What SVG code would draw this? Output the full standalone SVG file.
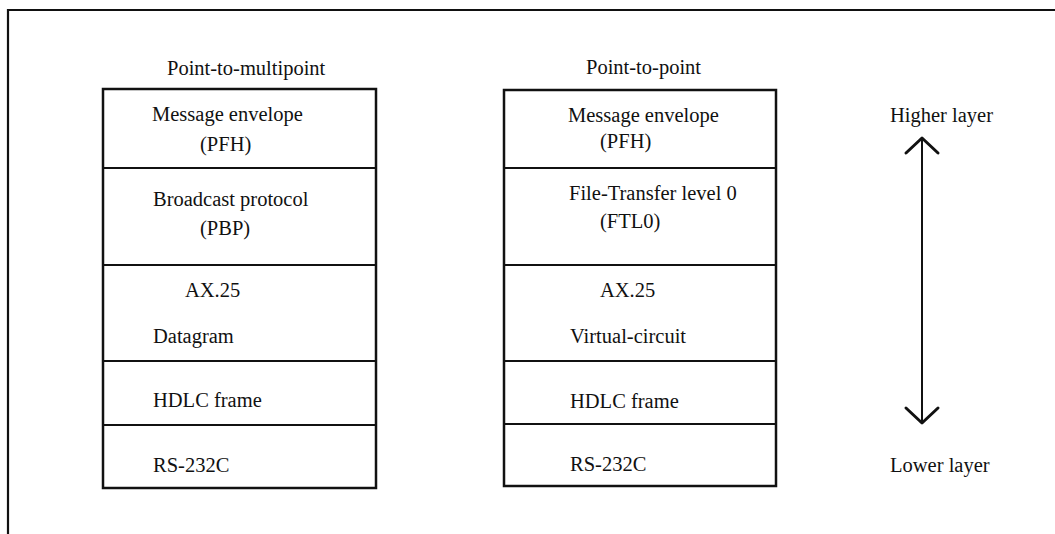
<svg xmlns="http://www.w3.org/2000/svg" width="1055" height="534" viewBox="0 0 1055 534">
<style>
text{font-family:"Liberation Serif","Times New Roman",serif;font-size:20.5px;fill:#111}
.box{fill:#fff;stroke:#111;stroke-width:2.5}
.div{stroke:#111;stroke-width:2.2}
.frame{stroke:#111;stroke-width:2.2;fill:none}
.arr{stroke:#111;stroke-width:2;fill:none}
.head{stroke:#111;stroke-width:3;fill:none;stroke-linecap:round;stroke-linejoin:round}
</style>
<rect width="1055" height="534" fill="#fff"/>
<g id="frame">
<path class="frame" d="M8 534 V10 H1055"/>
</g>
<g id="stack-multipoint">
<text x="167" y="75">Point-to-multipoint</text>
<rect class="box" x="103" y="89" width="273" height="399"/>
<line class="div" x1="103" y1="168" x2="376" y2="168"/>
<line class="div" x1="103" y1="265" x2="376" y2="265"/>
<line class="div" x1="103" y1="361" x2="376" y2="361"/>
<line class="div" x1="103" y1="425" x2="376" y2="425"/>
<g id="m-pfh"><text x="152" y="121">Message envelope</text><text x="200" y="151">(PFH)</text></g>
<g id="m-pbp"><text x="153" y="206">Broadcast protocol</text><text x="200" y="235">(PBP)</text></g>
<g id="m-ax25"><text x="185" y="297">AX.25</text><text x="153" y="343">Datagram</text></g>
<g id="m-hdlc"><text x="153" y="407">HDLC frame</text></g>
<g id="m-rs232"><text x="153" y="472">RS-232C</text></g>
</g>
<g id="stack-point">
<text x="586" y="74">Point-to-point</text>
<rect class="box" x="504" y="90" width="272" height="396"/>
<line class="div" x1="504" y1="168" x2="776" y2="168"/>
<line class="div" x1="504" y1="265" x2="776" y2="265"/>
<line class="div" x1="504" y1="361" x2="776" y2="361"/>
<line class="div" x1="504" y1="424" x2="776" y2="424"/>
<g id="p-pfh"><text x="568" y="122">Message envelope</text><text x="600" y="148">(PFH)</text></g>
<g id="p-ftl0"><text x="569" y="200">File-Transfer level 0</text><text x="600" y="228">(FTL0)</text></g>
<g id="p-ax25"><text x="600" y="297">AX.25</text><text x="570" y="343">Virtual-circuit</text></g>
<g id="p-hdlc"><text x="570" y="408">HDLC frame</text></g>
<g id="p-rs232"><text x="570" y="471">RS-232C</text></g>
</g>
<g id="label-higher"><text x="890" y="122">Higher layer</text></g>
<g id="label-lower"><text x="890" y="472">Lower layer</text></g>
<g id="connectors">
<line class="arr" x1="922" y1="139" x2="922" y2="422"/>
<polyline class="head" points="906,153 922,138 938,153"/>
<polyline class="head" points="906,408 922,423 938,408"/>
</g>
</svg>
